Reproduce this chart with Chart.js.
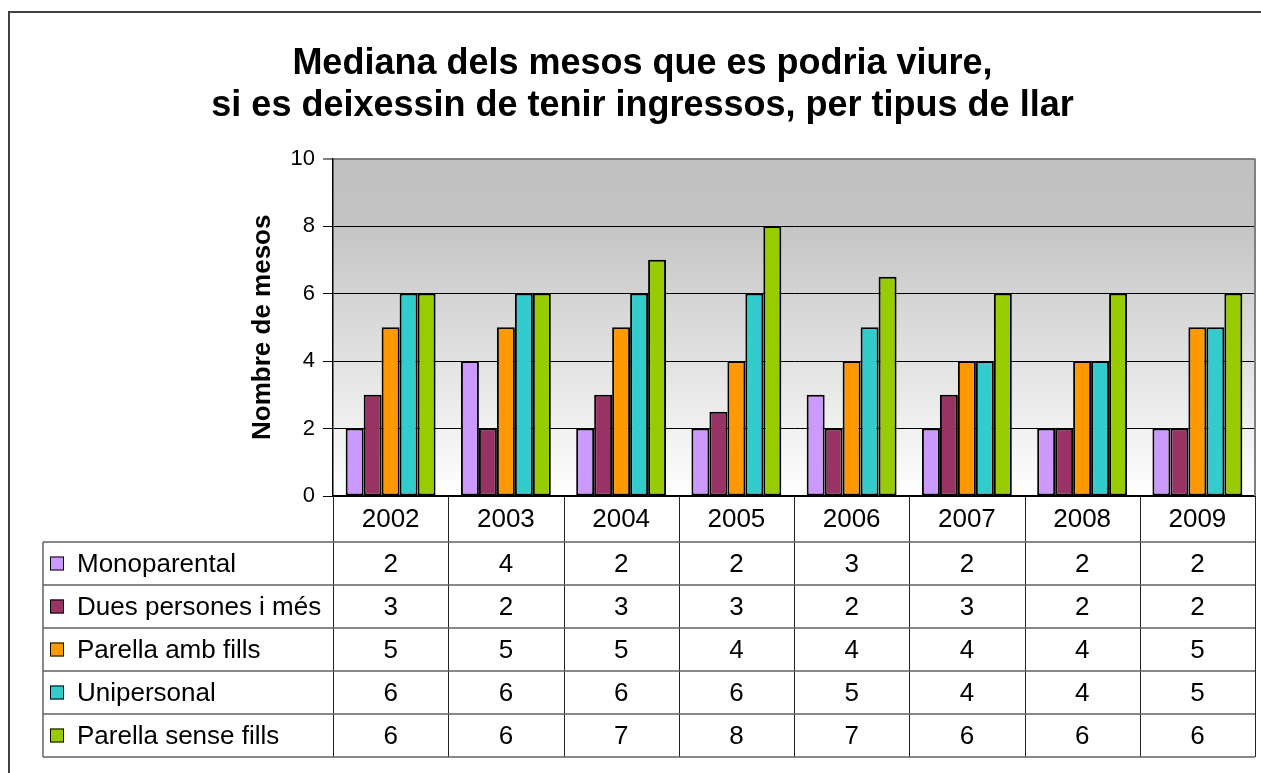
<!DOCTYPE html>
<html>
<head>
<meta charset="utf-8">
<script src="https://cdn.jsdelivr.net/npm/chart.js@4.4.0/dist/chart.umd.min.js"></script>
<style>
  html, body { margin: 0; padding: 0; background: #fff; }
</style>
</head>
<body>
<canvas id="myChart" width="1261" height="773"></canvas>
<script>
// data
let years = ['2002', '2003', '2004', '2005', '2006', '2007', '2008', '2009'];
let monoparental = [2, 4, 2, 2, 3, 2, 2, 2];
let duesPersones = [3, 2, 3, 2.5, 2, 3, 2, 2];
let parellaAmbFills = [5, 5, 5, 4, 4, 4, 4, 5];
let unipersonal = [6, 6, 6, 6, 5, 4, 4, 5];
let parellaSenseFills = [6, 6, 7, 8, 6.5, 6, 6, 6];
let seriesNames = ['Monoparental', 'Dues persones i més', 'Parella amb fills', 'Unipersonal', 'Parella sense fills'];
let seriesColors = ['#CC99FF', '#993366', '#FF9900', '#33CCCC', '#99CC00'];
let yTicks = [0, 2, 4, 6, 8, 10];

let titleLines = ['Mediana dels mesos que es podria viure,', 'si es deixessin de tenir ingressos, per tipus de llar'];
let yTitle = 'Nombre de mesos';

const FONT = "'Liberation Sans', Arial, Helvetica, sans-serif";
let allSeries = [monoparental, duesPersones, parellaAmbFills, unipersonal, parellaSenseFills];

let datasets = allSeries.map(function (vals, i) {
    return {
        label: seriesNames[i],
        data: vals,
        backgroundColor: seriesColors[i],
        borderColor: '#000',
        borderWidth: 2,
        borderSkipped: false,
        categoryPercentage: 0.78,
        barPercentage: 1.0
    };
});

// gray-to-white fill behind the bars
const plotBackground = {
    id: 'plotBackground',
    beforeDraw: function (chart) {
        let ctx = chart.ctx;
        let a = chart.chartArea;
        let g = ctx.createLinearGradient(0, a.top, 0, a.bottom);
        g.addColorStop(0, '#c0c0c0');
        g.addColorStop(0.18, '#c3c3c3');
        g.addColorStop(1, '#ffffff');
        ctx.save();
        ctx.fillStyle = g;
        ctx.fillRect(a.left, a.top, a.right - a.left, a.bottom - a.top);
        ctx.restore();
    }
};

// outer frame, right border of plot, and the data table under the axis
const dataTable = {
    id: 'dataTable',
    afterDraw: function (chart) {
        let ctx = chart.ctx;
        let a = chart.chartArea;
        let x = chart.scales.x;
        let half = (x.getPixelForValue(1) - x.getPixelForValue(0)) / 2;
        let tableLeft = 43;
        let headerBottom = 542;
        let rowH = 43;
        let nRows = seriesNames.length;

        ctx.save();

        // frame round the whole chart
        ctx.strokeStyle = '#404040';
        ctx.lineWidth = 2;
        ctx.strokeRect(9, 12, 1300, 800);

        // right edge of the plot
        ctx.strokeStyle = '#808080';
        ctx.lineWidth = 2;
        ctx.beginPath();
        ctx.moveTo(a.right, a.top);
        ctx.lineTo(a.right, a.bottom);
        ctx.stroke();

        // column dividers
        let colEdges = [];
        for (let i = 0; i < years.length; i++) colEdges.push(x.getPixelForValue(i) - half);
        colEdges.push(x.getPixelForValue(years.length - 1) + half);

        let bottom = headerBottom + rowH * nRows;
        ctx.strokeStyle = '#222';
        ctx.lineWidth = 1;
        colEdges.forEach(function (cx) {
            let px = Math.round(cx) + 0.5;
            ctx.beginPath();
            ctx.moveTo(px, a.bottom);
            ctx.lineTo(px, bottom);
            ctx.stroke();
        });

        // left edge of the table
        ctx.strokeStyle = '#606060';
        ctx.lineWidth = 1.5;
        ctx.beginPath();
        ctx.moveTo(tableLeft, headerBottom);
        ctx.lineTo(tableLeft, bottom);
        ctx.stroke();

        // row lines
        for (let r = 0; r <= nRows; r++) {
            let y = headerBottom + r * rowH;
            ctx.beginPath();
            ctx.moveTo(tableLeft, y);
            ctx.lineTo(a.right, y);
            ctx.stroke();
        }

        // legend keys, names and values
        ctx.font = '26px ' + FONT;
        ctx.textBaseline = 'middle';
        for (let r = 0; r < nRows; r++) {
            let cy = headerBottom + r * rowH + rowH / 2;
            ctx.fillStyle = seriesColors[r];
            ctx.fillRect(50, cy - 7, 14, 14);
            ctx.strokeStyle = '#000';
            ctx.lineWidth = 1;
            ctx.strokeRect(50.5, cy - 6.5, 13, 13);

            ctx.fillStyle = '#000';
            ctx.textAlign = 'left';
            ctx.fillText(seriesNames[r], 77, cy + 1);

            ctx.textAlign = 'center';
            allSeries[r].forEach(function (v, i) {
                ctx.fillText(String(Math.round(v)), x.getPixelForValue(i), cy + 1);
            });
        }
        ctx.restore();
    }
};

var ctx = document.getElementById('myChart').getContext('2d');
var myChart = new Chart(ctx, {
    type: 'bar',
    data: {
        labels: years,
        datasets: datasets
    },
    plugins: [plotBackground, dataTable],
    options: {
        responsive: false,
        animation: false,
        layout: {
            padding: { top: 11, left: 30, right: 6, bottom: 0 }
        },
        plugins: {
            legend: { display: false },
            tooltip: { enabled: false },
            title: {
                display: true,
                text: titleLines,
                color: '#000',
                font: { family: FONT, size: 36, weight: 'bold', lineHeight: 1.16 },
                padding: { top: 32, bottom: 32 }
            }
        },
        scales: {
            x: {
                grid: { display: false, drawTicks: false },
                border: { display: true, color: '#000', width: 1.5 },
                ticks: {
                    color: '#000',
                    font: { family: FONT, size: 26 },
                    padding: 8
                },
                afterFit: function (scale) { scale.height = 277; }
            },
            y: {
                min: 0,
                max: 10,
                afterBuildTicks: function (scale) {
                    scale.ticks = yTicks.map(function (v) { return { value: v }; });
                },
                grid: {
                    color: function (c) { return c.tick && c.tick.value === 10 ? '#808080' : '#000'; },
                    lineWidth: function (c) { return c.tick && c.tick.value === 10 ? 2 : 1; },
                    tickLength: 10
                },
                border: { display: true, color: '#000', width: 1.5 },
                ticks: {
                    color: '#000',
                    font: { family: FONT, size: 22 },
                    padding: 8
                },
                title: {
                    display: true,
                    text: yTitle,
                    color: '#000',
                    font: { family: FONT, size: 26, weight: 'bold', lineHeight: 1.2 },
                    padding: { top: 217 }
                },
                afterFit: function (scale) { scale.width = 303; }
            }
        }
    }
});
</script>
</body>
</html>
